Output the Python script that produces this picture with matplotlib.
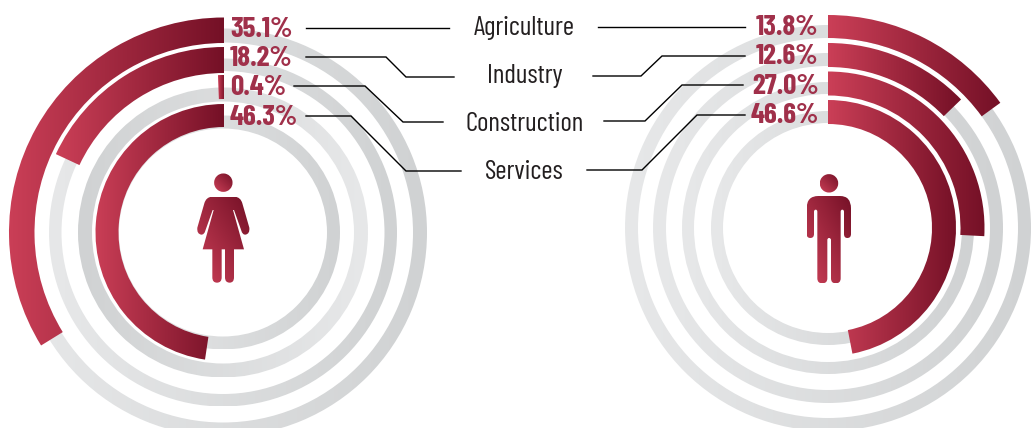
import numpy as np
import matplotlib
matplotlib.use('Agg')
import matplotlib.pyplot as plt
from matplotlib.patches import Wedge, PathPatch
from matplotlib.path import Path
from matplotlib.colors import LinearSegmentedColormap

categories = ['Agriculture', 'Industry', 'Construction', 'Services']
women_labels = ['35.1%', '18.2%', '0.4%', '46.3%']
men_labels = ['13.8%', '12.6%', '27.0%', '46.6%']
# arc lengths in degrees (they differ a bit from the labels)
women_arc = [121.7, 65, 2.2, 171.5]
men_arc = [54, 46, 93, 169]

RED = LinearSegmentedColormap.from_list('red', ['#cb3f57', '#741026'])
GREY = LinearSegmentedColormap.from_list('grey', ['#e7e8e9', '#d0d2d3'])
TEXT_RED = '#a0304a'

plt.rcParams['font.family'] = ['Barlow Condensed', 'Liberation Sans', 'DejaVu Sans']
fig = plt.figure(figsize=(10.32, 4.28), dpi=100)
ax = fig.add_axes([0, 0, 1, 1])


def gradient(shape, x0, x1, y0, y1, cmap, diag=False, flip=False, z=2):
    if diag:
        xx, yy = np.meshgrid(np.linspace(0, 1, 64), np.linspace(0, 1, 64))
        g = (xx + (1 - yy)) / 2
    else:
        g = np.linspace(0, 1, 256)[None, :]
    if flip:
        g = 1 - g
    im = ax.imshow(g, extent=[x0, x1, y1, y0], cmap=cmap, vmin=0, vmax=1,
                   aspect='auto', interpolation='bilinear', zorder=z)
    shape.set_transform(ax.transData)
    im.set_clip_path(shape)


def ring(cx, cy, r_in, r_out, flip=False):
    w = Wedge((cx, cy), r_out, 0, 360, width=r_out - r_in, transform=ax.transData)
    gradient(w, cx - r_out, cx + r_out, cy - r_out, cy + r_out, GREY, flip=flip, z=1)


def arc(cx, cy, r_in, r_out, sweep, side):
    # y axis points down, so a growing angle runs clockwise on screen
    if side == 'left':
        t1, t2 = -90 - sweep, -90
    else:
        t1, t2 = -90, -90 + sweep
    w = Wedge((cx, cy), r_out, t1, t2, width=r_out - r_in, transform=ax.transData)
    verts = w.get_path().vertices
    xs = w.get_patch_transform().transform(verts)[:, 0]
    gradient(w, xs.min(), xs.max(), cy - r_out, cy + r_out, RED)


def person(ox, oy, body, head, head_r):
    # icon outline is in 3x pixels relative to (ox, oy)
    verts = [(ox + x / 3, oy + y / 3) for x, y, c in body]
    codes = [c for x, y, c in body]
    xs = [v[0] for v in verts]
    ys = [v[1] for v in verts]
    p = PathPatch(Path(verts, codes), transform=ax.transData)
    gradient(p, min(xs), max(xs), min(ys), max(ys), RED, diag=True)
    hx, hy = ox + head[0] / 3, oy + head[1] / 3
    h = Wedge((hx, hy), head_r, 0, 360, transform=ax.transData)
    gradient(h, hx - head_r, hx + head_r, hy - head_r, hy + head_r, RED, diag=True)


M, L, C = Path.MOVETO, Path.LINETO, Path.CURVE3
woman = [(125, 110, M), (195, 110, L), (212, 112, C), (217, 130, C), (238, 203, L), (240, 222, C), (226, 224, C),
         (217, 224, C), (214, 212, C), (192, 150, L), (189, 150, L), (222, 268, L), (192, 268, L), (192, 352, L),
         (192, 368, C), (179, 368, C), (165, 368, C), (165, 352, C), (165, 268, L), (155, 268, L), (155, 352, L),
         (155, 368, C), (141, 368, C), (127, 368, C), (127, 352, C), (127, 268, L), (98, 268, L), (131, 150, L),
         (128, 150, L), (106, 212, L), (103, 224, C), (94, 224, C), (80, 222, C), (82, 203, C), (103, 130, L),
         (108, 112, C), (125, 110, C), (125, 110, L)]
man = [(145, 108, M), (210, 108, L), (243, 108, C), (243, 145, C), (243, 222, L), (243, 234, C), (232, 234, C),
       (222, 234, C), (222, 222, C), (222, 155, L), (222, 149, C), (217, 149, C), (212, 149, C), (212, 155, C),
       (212, 355, L), (212, 370, C), (197, 370, C), (183, 370, C), (183, 355, C), (183, 240, L), (183, 234, C),
       (177, 234, C), (172, 234, C), (172, 240, C), (172, 355, L), (172, 370, C), (157, 370, C), (142, 370, C),
       (142, 355, C), (142, 155, L), (142, 149, C), (137, 149, C), (132, 149, C), (132, 155, C), (132, 222, L),
       (132, 234, C), (121, 234, C), (110, 234, C), (110, 222, C), (110, 145, L), (110, 108, C), (145, 108, C)]

ring_flip = [False, False, True, False]

# women
wx, wy = 224, 232.5
women_rings = [(190, 204), (161.5, 174), (131, 145), (104, 117)]
women_r = [(189.5, 215), (159.5, 185.5), (133.5, 157.5), (105.5, 128.5)]
for (a, b), fl in zip(women_rings, ring_flip):
    ring(wx - 1, wy, a, b, fl)
for (a, b), s in zip(women_r, women_arc):
    arc(wx, wy, a, b, s, 'left')
person(170, 160, woman, (160, 68), 9.2)

# men
mx, my = 828, 228
men_rings = [(190, 203), (162, 175), (134, 146), (105, 117)]
men_r = [(190, 213), (161, 185), (132.5, 156.5), (104, 128)]
for a, b in men_rings:
    ring(mx, my, a, b, False)
for (a, b), s in zip(men_r, men_arc):
    arc(mx, my, a, b, s, 'right')
person(770, 160, man, (177, 70), 9.2)

# percentages
for lab, y in zip(women_labels, [29, 58, 87, 117]):
    ax.text(230, y, lab, color=TEXT_RED, fontsize=21, fontweight='bold', ha='left', va='center')
for lab, y in zip(men_labels, [27, 56, 86, 115]):
    ax.text(818.5, y, lab, color=TEXT_RED, fontsize=21, fontweight='bold', ha='right', va='center')

for cat, y in zip(categories, [28, 76, 124, 172]):
    ax.text(524.5, y, cat, color='#231f20', fontsize=19.6, ha='center', va='center')

# leader lines
left_x = [[306, 449], [306, 386, 406, 454], [294, 365, 403, 443], [306, 351, 406, 461]]
left_y = [[28, 28], [57, 57, 77, 77], [86, 86, 122, 122], [116, 116, 171, 171]]
right_x = [[598, 745], [593, 641, 662, 745], [604, 645, 682, 743], [587, 642, 697, 745]]
right_y = [[27, 27], [76, 76, 56, 56], [121, 121, 85, 85], [170, 170, 115, 115]]
for xs, ys in zip(left_x + right_x, left_y + right_y):
    ax.plot(xs, ys, color='black', lw=1.0, solid_joinstyle='miter', zorder=3)

ax.set_xlim(0, 1032)
ax.set_ylim(428, 0)
ax.axis('off')
fig.savefig('out.png', dpi=100)
